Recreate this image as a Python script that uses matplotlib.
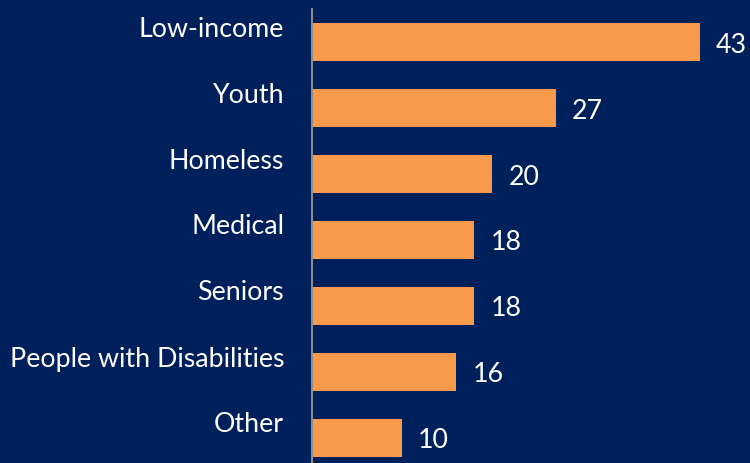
import matplotlib.pyplot as plt

# populations served (count)
categories = ["Low-income", "Youth", "Homeless", "Medical", "Seniors",
              "People with Disabilities", "Other"]
counts = [43, 27, 20, 18, 18, 16, 10]

bg = "#00205B"
bar_color = "#F79A4A"

plt.rcParams['font.family'] = ['Lato', 'DejaVu Sans']

fig = plt.figure(figsize=(7.5, 4.64), dpi=100, facecolor=bg)
ax = fig.add_axes([312 / 750, -8 / 464, 433 / 750, 462 / 464])
ax.set_facecolor(bg)

y = list(range(len(categories)))
ax.barh(y, counts, height=0.576, color=bar_color)
ax.set_ylim(len(categories) - 0.5, -0.5)
ax.set_xlim(0, 48)

for i, (cat, val) in enumerate(zip(categories, counts)):
    ax.annotate(cat, xy=(0, i), xytext=(-28, 14), textcoords='offset pixels',
                ha='right', va='center', color='white', fontsize=19.3)
    ax.annotate(str(val), xy=(val, i), xytext=(16, -2), textcoords='offset pixels',
                ha='left', va='center', color='white', fontsize=19.3)

for s in ['top', 'right', 'bottom']:
    ax.spines[s].set_visible(False)
ax.spines['left'].set_color('#8C8C8C')
ax.spines['left'].set_linewidth(1.5)
ax.set_xticks([])
ax.set_yticks([])

fig.savefig("out.png", dpi=100, facecolor=bg)
